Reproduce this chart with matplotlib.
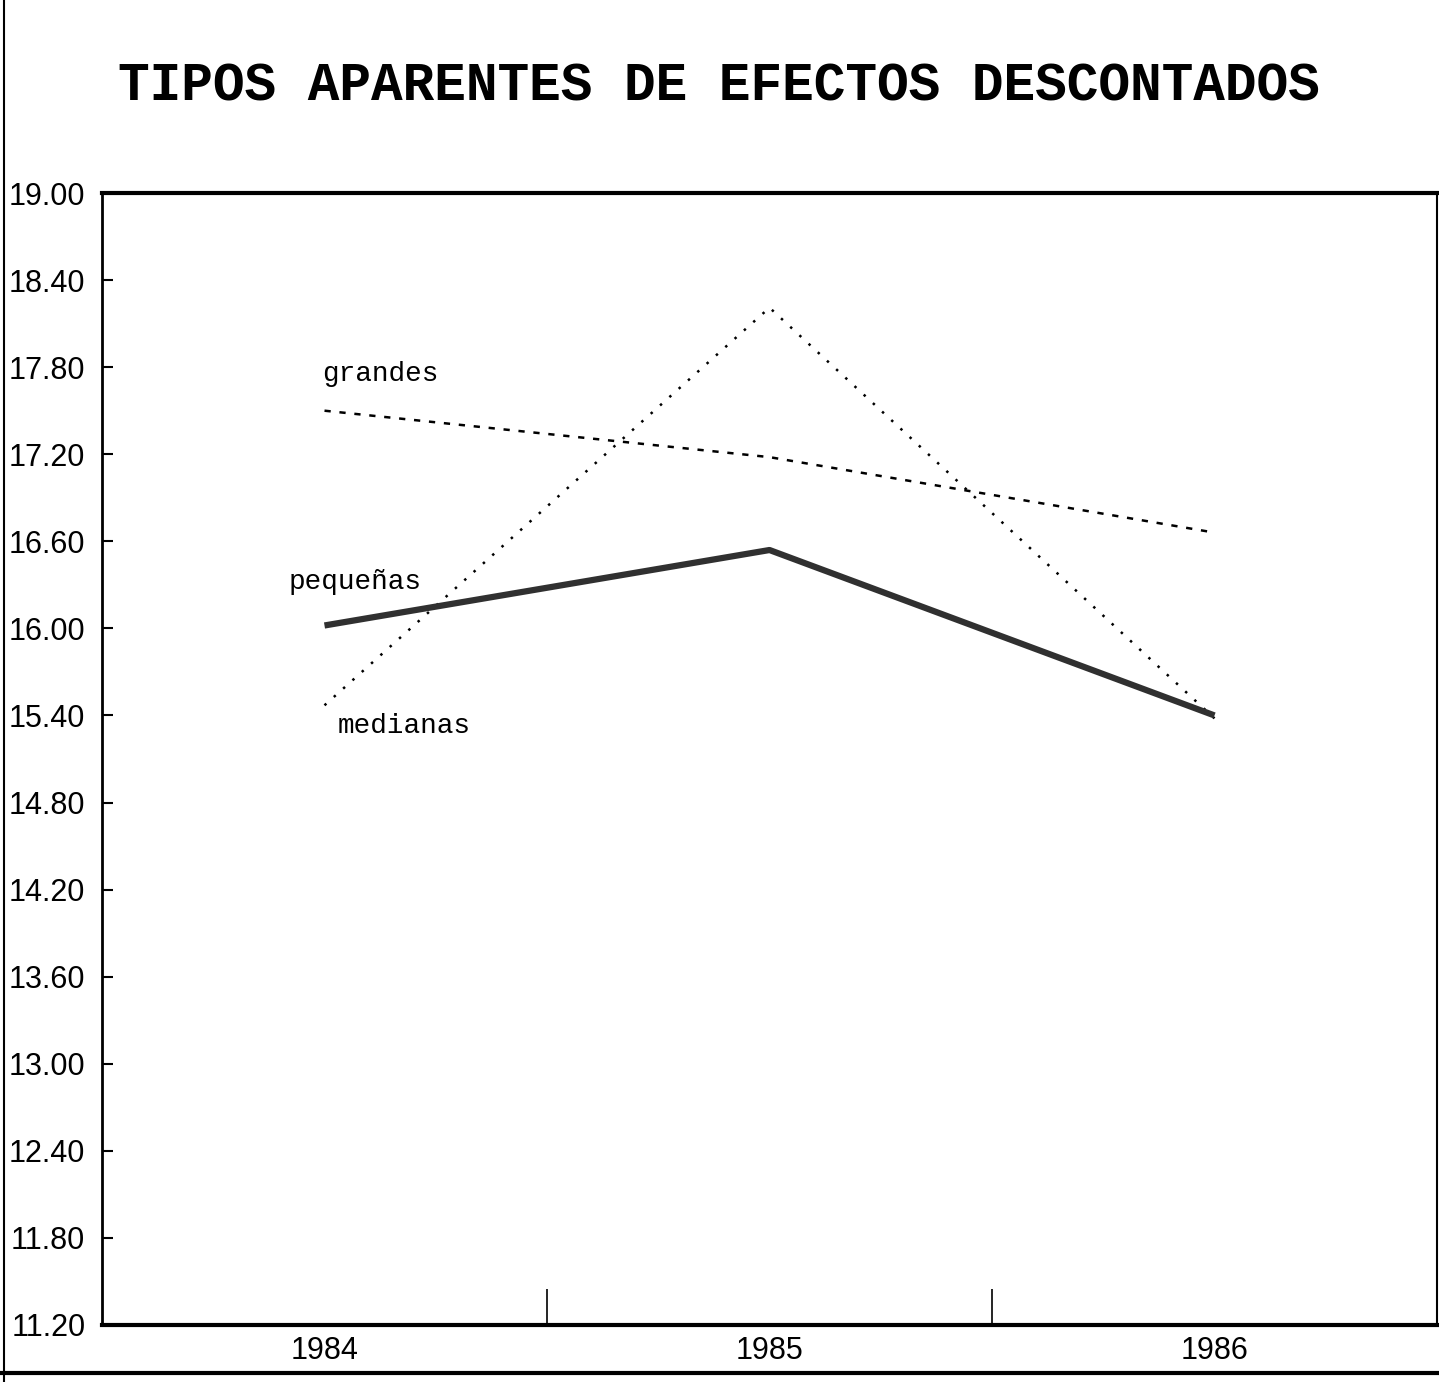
import numpy as np
import matplotlib.pyplot as plt
from matplotlib.lines import Line2D

# data
years = [1984, 1985, 1986]
grandes = [17.50, 17.18, 16.66]
medianas = [15.47, 18.21, 15.38]
pequenas = [16.02, 16.54, 15.40]
series_names = ['grandes', 'pequeñas', 'medianas']
yticks = np.arange(11.2, 19.01, 0.6)
title = 'TIPOS APARENTES DE EFECTOS DESCONTADOS'

fig = plt.figure(figsize=(14.39, 13.82), dpi=100)
ax = fig.add_axes([102/1439, 1 - 1325/1382, 1335/1439, (1325 - 193)/1382])

ax.plot(years, grandes, color='black', lw=1.8, linestyle=(0, (2.5, 3.5)))
ax.plot(years, medianas, color='black', lw=1.8, linestyle=(0, (1, 4)))
ax.plot(years, pequenas, color='#303030', lw=4.5, solid_capstyle='butt')

ax.set_xlim(1983.5, 1986.5)
ax.set_ylim(11.2, 19.0)

tick_font = ['Liberation Sans', 'DejaVu Sans']
ax.set_yticks(yticks)
ax.set_yticklabels(['%.2f' % v for v in yticks], family=tick_font, fontsize=22)
ax.tick_params(axis='y', direction='in', length=8, width=1.5, pad=12)

ax.set_xticks([1984.5, 1985.5])
ax.set_xticklabels([])
ax.tick_params(axis='x', which='major', direction='in', length=26, width=1.2)
ax.set_xticks(years, minor=True)
ax.set_xticklabels([str(y) for y in years], minor=True, family=tick_font, fontsize=22)
ax.tick_params(axis='x', which='minor', length=0, pad=8)

for side in ['top', 'bottom']:
    ax.spines[side].set_linewidth(3)
ax.spines['left'].set_linewidth(2)
ax.spines['right'].set_linewidth(1.5)

lab_font = ['Liberation Mono', 'DejaVu Sans Mono']
ax.text(1983.995, 17.75, series_names[0], family=lab_font, fontsize=20, va='center', ha='left')
ax.text(1983.92, 16.32, series_names[1], family=lab_font, fontsize=20, va='center', ha='left')
ax.text(1984.03, 15.33, series_names[2], family=lab_font, fontsize=20, va='center', ha='left')

fig.text(118/1439, 1 - 86/1382, title, family=['Liberation Mono', 'DejaVu Sans Mono'],
         fontweight='bold', fontsize=38, va='center', ha='left')

# outer frame of the page
fig.add_artist(Line2D([4/1439, 4/1439], [0, 1], transform=fig.transFigure, color='black', lw=1.5))
fig.add_artist(Line2D([0, 1], [1 - 1373/1382, 1 - 1373/1382], transform=fig.transFigure,
                      color='black', lw=3))

fig.savefig('out.png', dpi=100)
